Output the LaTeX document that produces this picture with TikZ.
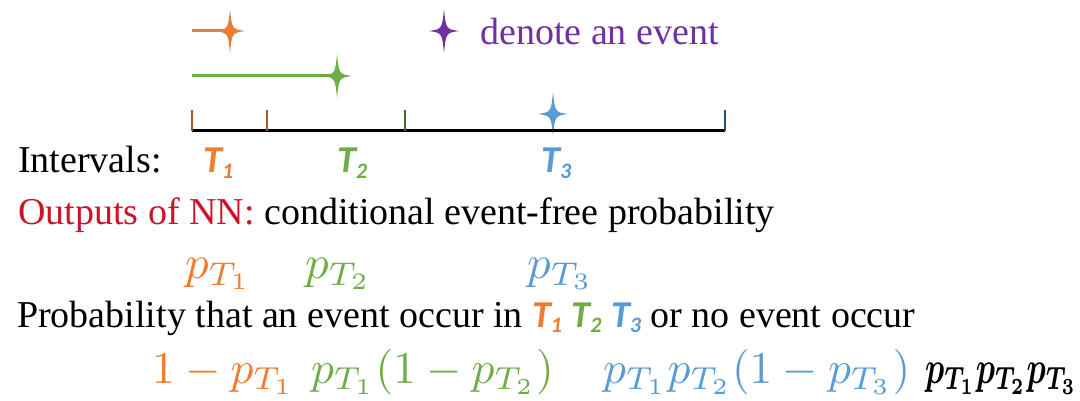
\documentclass[tikz,border=0pt]{standalone}
\usepackage{amsmath,bm}
\usepackage{graphicx}
\usepackage{fontspec}
\setmainfont{Liberation Serif}
\newfontfamily\calfont{Carlito}
\usetikzlibrary{positioning}
\definecolor{evorange}{RGB}{237,125,49}
\definecolor{evgreen}{RGB}{112,173,71}
\definecolor{evblue}{RGB}{91,155,213}
\definecolor{evpurple}{RGB}{112,48,160}
\definecolor{nnred}{RGB}{204,20,40}
\newcommand{\Tlab}[1]{{\calfont\bfseries\itshape T\raisebox{-0.3ex}{\fontsize{22}{22}\selectfont #1}}}
\newcommand{\scaledmath}[1]{\scalebox{4.7}{$#1$}}
\newcommand{\rowmath}[1]{\scalebox{4.55}{$#1$}}

\begin{document}
\begin{tikzpicture}[x=1pt, y=-1pt,
  txt/.style={anchor=base west, inner sep=0pt, font=\fontsize{38}{44}\selectfont},
  mth/.style={anchor=base west, inner sep=0pt},
  evline/.style={line width=3pt},
  tick/.style={line width=2pt},
  evstar/.pic={\fill (0,-22) .. controls (2,-2) .. (15,0) .. controls (2,2) .. (0,22)
     .. controls (-2,2) .. (-15,0) .. controls (-2,-2) .. cycle;}]
  \useasboundingbox (0,0) rectangle (1080,401);
  % events
  \coordinate (o0) at (192,31);
  \coordinate (o1) at (230,31);
  \draw[evline, evorange] (o0) -- (o1);
  \pic[evorange] at (o1) {evstar};
  \coordinate (g0) at (192,76);
  \coordinate (g1) at (337,76);
  \draw[evline, evgreen] (g0) -- (g1);
  \pic[evgreen] at (g1) {evstar};
  \coordinate (b1) at (553,114);
  \pic[evblue] at (b1) {evstar};
  % legend
  \coordinate (p1) at (444,31);
  \pic[evpurple] at (p1) {evstar};
  \node[txt, text=evpurple] (lgd) at (480,45) {denote an event};
  % axis
  \coordinate (a0) at (192,131);
  \coordinate (a1) at (725,131);
  \draw[line width=3pt] (a0) -- (a1);
  \foreach \x/\c in {192/evorange!70!black, 267/evorange!70!black, 405/evgreen!60!black, 725/evblue!50!black}
    \draw[tick, \c] (\x,131) -- (\x,110);
  % intervals
  \node[txt] (intv) at (18,173) {Intervals:};
  \node[txt, text=evorange] (t1) at (203,173) {\Tlab{1}};
  \node[txt, text=evgreen] (t2) at (337,173) {\Tlab{2}};
  \node[txt, text=evblue] (t3) at (541,173) {\Tlab{3}};
  % outputs
  \node[txt] (outs) at (18,225) {\textcolor{nnred}{Outputs of NN:} conditional event-free probability};
  \node[mth, text=evorange] (q1) at (185,278) {\scaledmath{p_{T_1}}};
  \node[mth, text=evgreen] (q2) at (305,278) {\scaledmath{p_{T_2}}};
  \node[mth, text=evblue] (q3) at (527,278) {\scaledmath{p_{T_3}}};
  % probabilities
  \node[txt] (prob) at (17,327) {Probability that an event occur in \textcolor{evorange}{\Tlab{1}}
    \textcolor{evgreen}{\Tlab{2}} \textcolor{evblue}{\Tlab{3}} or no event occur};
  \node[mth, text=evorange] (r1) at (152,383) {\rowmath{1-p_{T_1}}};
  \node[mth, text=evgreen] (r2) at (311,383) {\rowmath{p_{T_1}(1-p_{T_2})}};
  \node[mth, text=evblue] (r3) at (603,383) {\rowmath{p_{T_1}p_{T_2}(1-p_{T_3})}};
  \node[mth] (r4) at (925,383) {\scalebox{3.2}[4.6]{$\boldsymbol{p_{T_1}p_{T_2}p_{T_3}}$}};
\end{tikzpicture}
\end{document}
